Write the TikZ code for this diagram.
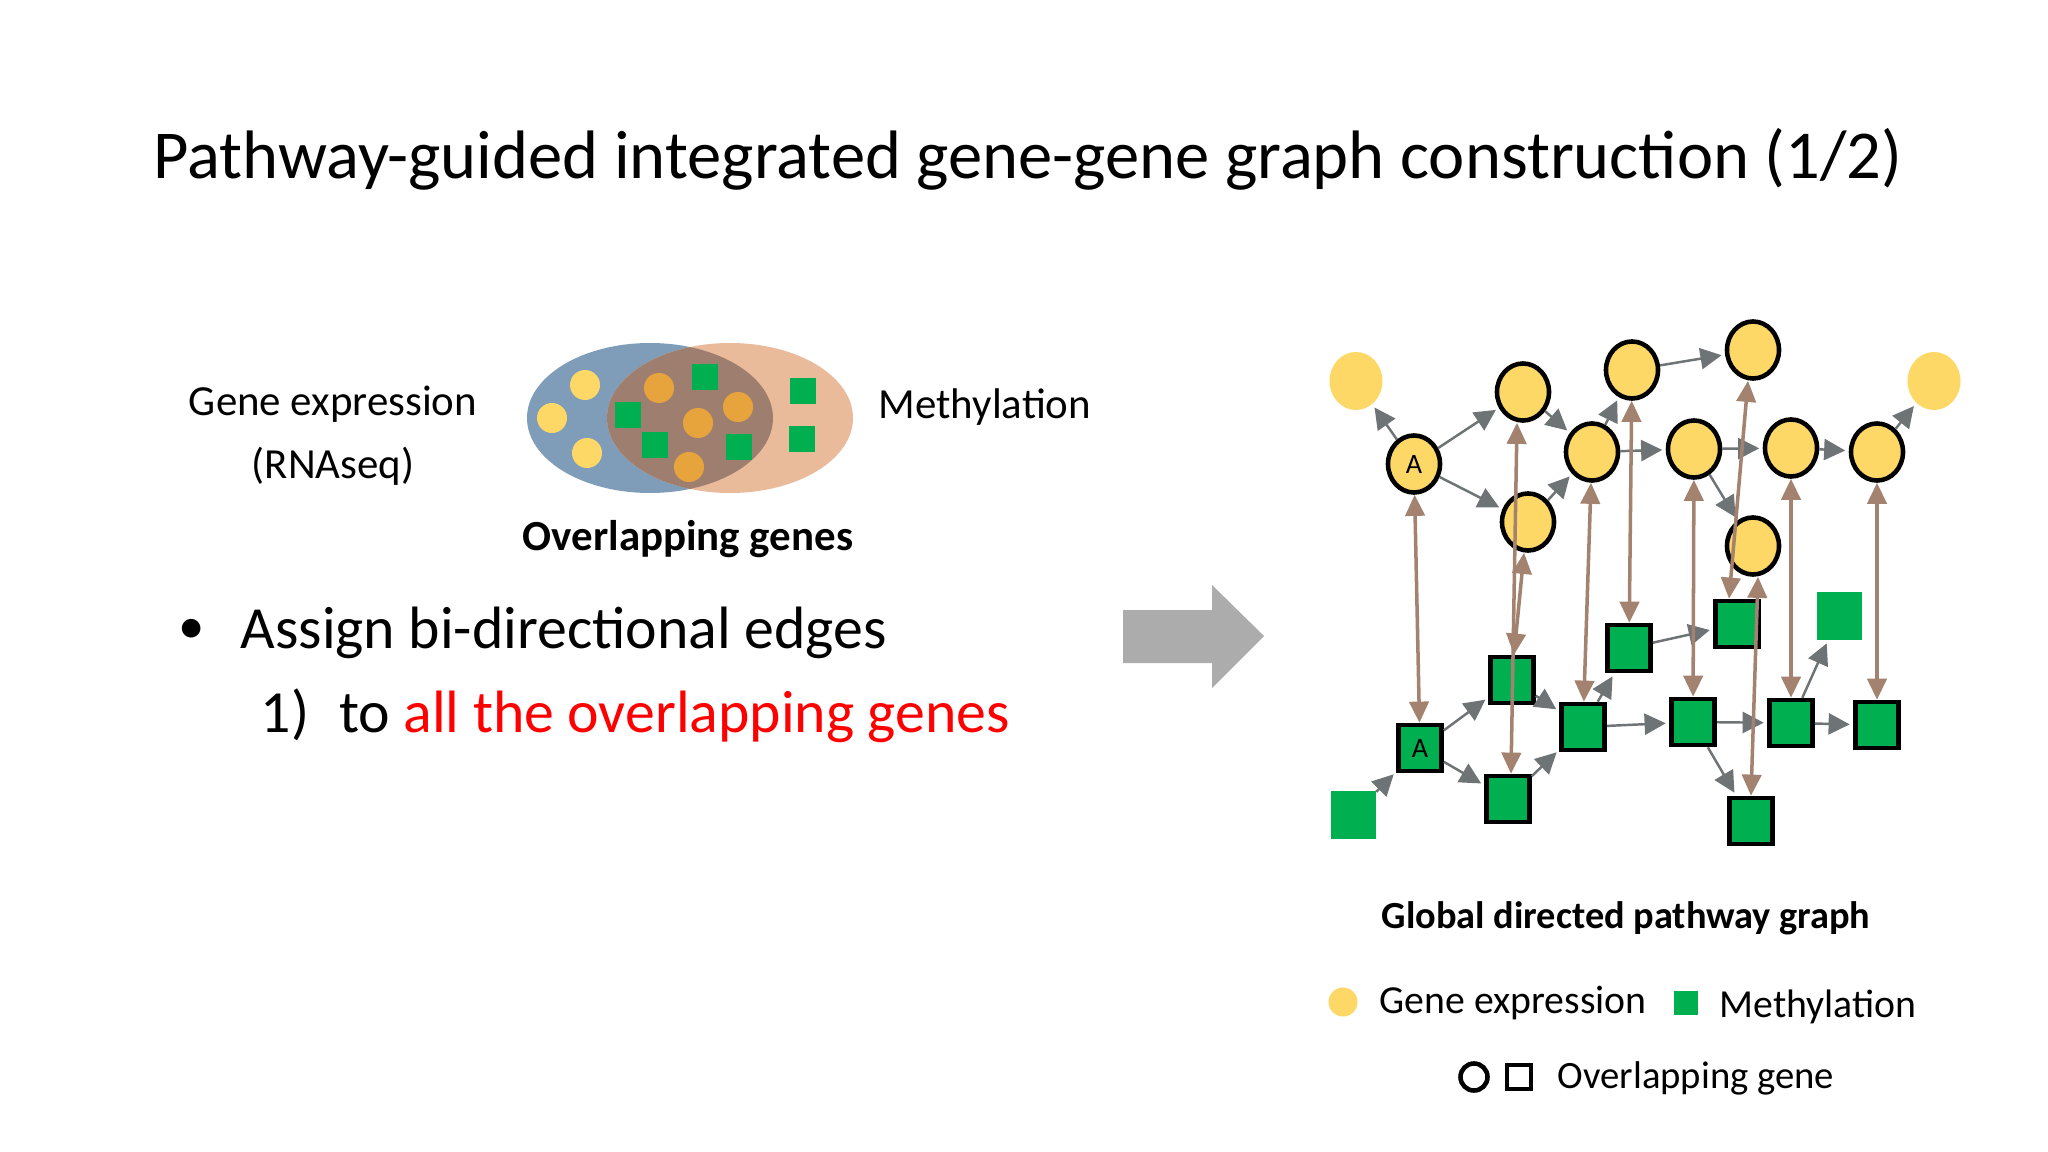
\documentclass[tikz,border=0pt]{standalone}
\usepackage{fontspec}
\setmainfont{Carlito}
\usetikzlibrary{shapes.geometric,arrows.meta}
\definecolor{yel}{HTML}{FDD867}
\definecolor{grn}{HTML}{00B050}
\definecolor{gar}{HTML}{6E7376}
\definecolor{brn}{HTML}{A3836F}
\definecolor{vblue}{HTML}{7F9DB9}
\definecolor{vpeach}{HTML}{E9BB9B}
\definecolor{vover}{HTML}{9E7F6F}
\definecolor{orng}{HTML}{E7A43C}
\tikzset{
 gc/.style={ellipse,fill=yel,draw=black,line width=1.3pt,minimum width=0.52cm,minimum height=0.57cm,inner sep=0pt,font=\fontsize{8}{9}\selectfont},
 gcf/.style={ellipse,fill=yel,minimum width=0.53cm,minimum height=0.58cm,inner sep=0pt},
 ms/.style={rectangle,fill=grn,draw=black,line width=1.3pt,minimum width=0.43cm,minimum height=0.46cm,inner sep=0pt,font=\fontsize{8}{9}\selectfont},
 msf/.style={rectangle,fill=grn,minimum width=0.45cm,minimum height=0.47cm,inner sep=0pt},
 ga/.style={draw=gar,line width=0.7pt,-{Triangle[length=6pt,width=6pt]},shorten >=1pt},
 ba/.style={draw=brn,line width=1pt,{Triangle[length=6pt,width=5.5pt]}-{Triangle[length=6pt,width=5.5pt]}},
 vy/.style={circle,fill=yel,minimum size=0.3cm,inner sep=0pt},
 vo/.style={circle,fill=orng,minimum size=0.3cm,inner sep=0pt},
 vg/.style={rectangle,fill=grn,minimum width=0.26cm,minimum height=0.25cm,inner sep=0pt},
 txt/.style={inner sep=0pt,font=\fontsize{12.2}{15}\selectfont}
}
\begin{document}
\begin{tikzpicture}[x=0.01cm,y=-0.01cm]
\useasboundingbox (0,0) rectangle (2048,1152);
\fill[white] (0,0) rectangle (2048,1152);
\node[inner sep=0pt,font=\fontsize{19.5}{23}\selectfont] (title) at (1028,159) {Pathway-guided integrated gene-gene graph construction (1/2)};
% Venn
\fill[vblue] (650,418) ellipse (123 and 75);
\fill[vpeach] (730,418) ellipse (123 and 75);
\begin{scope}
\clip (650,418) ellipse (123 and 75);
\fill[vover] (730,418) ellipse (123 and 75);
\end{scope}
\node[vy] (y1) at (585,385) {};
\node[vy] (y2) at (552,418) {};
\node[vy] (y3) at (587,453) {};
\node[vo] (o1) at (659,388) {};
\node[vo] (o2) at (738,407) {};
\node[vo] (o3) at (698,423) {};
\node[vo] (o4) at (689,467) {};
\node[vg] (g1) at (705,377) {};
\node[vg] (g2) at (628,415) {};
\node[vg] (g3) at (655,445) {};
\node[vg] (g4) at (739,447) {};
\node[vg] (g5) at (803,391) {};
\node[vg] (g6) at (802,439) {};
\node[txt,align=center] (ge) at (333,436) {Gene expression\\[3pt](RNAseq)};
\node[txt,anchor=west] (me) at (878,407) {Methylation};
\node[txt,font=\fontsize{12.2}{15}\selectfont\bfseries] (ov) at (688,539) {Overlapping genes};
\node[inner sep=0pt,font=\fontsize{15}{18}\selectfont] (bul) at (192,631) {•};
\node[inner sep=0pt,anchor=west,font=\fontsize{17}{20}\selectfont] (as) at (240,633) {Assign bi-directional edges};
\node[inner sep=0pt,anchor=west,font=\fontsize{17}{20}\selectfont] (n1) at (260,716) {1)\hspace{0.5em}to \textcolor{red}{all the overlapping genes}};
% big arrow
\fill[gray!65] (1123,610) -- (1212,610) -- (1212,585) -- (1264,636) -- (1212,688) -- (1212,663) -- (1123,663) -- cycle;
% graph
\node[gcf] (ftl) at (1356,381) {};
\node[gcf] (ftr) at (1934,381) {};
\node[gc] (A) at (1414,464) {A};
\node[gc] (c1) at (1523,392) {};
\node[gc] (c2) at (1632,370) {};
\node[gc] (c3) at (1753,350) {};
\node[gc] (c4) at (1592,452) {};
\node[gc] (c5) at (1694,449) {};
\node[gc] (c6) at (1791,448) {};
\node[gc] (c7) at (1877,452) {};
\node[gc] (c8) at (1528,522) {};
\node[gc] (c9) at (1753,546) {};
\node[msf] (fbl) at (1353,815) {};
\node[msf] (fsr) at (1839,616) {};
\node[ms] (sA) at (1420,748) {A};
\node[ms] (s1) at (1512,680) {};
\node[ms] (s2) at (1508,799) {};
\node[ms] (s3) at (1583,727) {};
\node[ms] (s4) at (1629,648) {};
\node[ms] (s5) at (1737,624) {};
\node[ms] (s6) at (1693,722) {};
\node[ms] (s7) at (1791,723) {};
\node[ms] (s8) at (1877,725) {};
\node[ms] (s9) at (1751,821) {};
% gray edges
\foreach \a/\b in {A/ftl,A/c1,A/c8,c1/c4,c8/c4,c4/c2,c2/c3,c4/c5,c5/c6,c6/c7,c7/ftr,c5/c9,
 fbl/sA,sA/s1,sA/s2,s1/s3,s2/s3,s3/s4,s4/s5,s3/s6,s6/s7,s7/s8,s7/fsr,s6/s9}
 \draw[ga] (\a) -- (\b);
% brown bidirectional
\draw[ba] (A) -- (sA);
\draw[ba] ([xshift=-0.06cm]c1.south) -- ([xshift=0.03cm]s2.north);
\draw[ba] ([xshift=-0.04cm]c8.south) -- ([xshift=0.02cm]s1.north);
\draw[ba] (c4) -- (s3);
\draw[ba] (c2) -- (s4);
\draw[ba] ([xshift=-0.05cm]c3.south) -- ([xshift=-0.08cm]s5.north);
\draw[ba] ([xshift=0.05cm]c9.south) -- (s9.north);
\draw[ba] (c5) -- (s6);
\draw[ba] (c6) -- (s7);
\draw[ba] (c7) -- (s8);
\node[txt,font=\fontsize{10.9}{13}\selectfont\bfseries] (gl) at (1626,918) {Global directed pathway graph};
% legend
\node[circle,fill=yel,minimum size=0.29cm,inner sep=0pt] (l1) at (1343,1002) {};
\node[txt,anchor=west,font=\fontsize{11.3}{13}\selectfont] (l1t) at (1379,1003) {Gene expression};
\node[rectangle,fill=grn,minimum size=0.24cm,inner sep=0pt] (l2) at (1686,1003) {};
\node[txt,anchor=west,font=\fontsize{11.3}{13}\selectfont] (l2t) at (1719,1007) {Methylation};
\node[circle,draw=black,line width=1.3pt,minimum size=0.27cm,inner sep=0pt] (l3) at (1474,1077) {};
\node[rectangle,draw=black,line width=1.3pt,minimum size=0.24cm,inner sep=0pt] (l4) at (1519,1077) {};
\node[txt,anchor=west,font=\fontsize{11}{13}\selectfont] (l3t) at (1557,1078) {Overlapping gene};
\end{tikzpicture}
\end{document}
